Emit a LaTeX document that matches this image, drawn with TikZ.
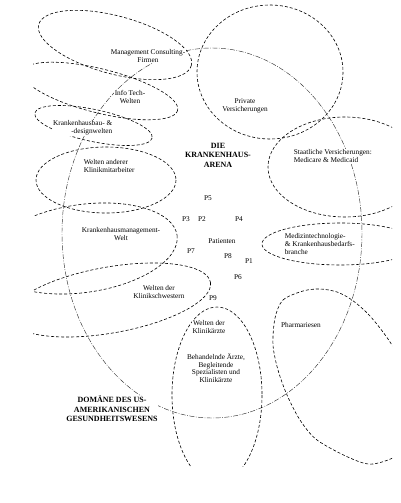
\documentclass[tikz,border=0pt]{standalone}
\usepackage{fontspec}
\setmainfont{Liberation Serif}
\begin{document}
\begin{tikzpicture}[x=1pt,y=-1pt,
  ell/.style={line width=0.6pt, dash pattern=on 3pt off 2pt},
  dom/.style={line width=0.45pt, dash pattern=on 5pt off 1.5pt on 0.8pt off 1.5pt, black!80},
  lbl/.style={font=\fontsize{7.3}{7.8}\selectfont, align=center, inner sep=0.6pt, fill=white},
  ttl/.style={font=\fontsize{8}{9.5}\selectfont\bfseries, align=center, inner sep=0.6pt, fill=white},
  pl/.style={font=\fontsize{7.3}{7.8}\selectfont, inner sep=0.5pt}]
\useasboundingbox (0,0) rectangle (400,503);
\begin{scope}
\clip (33,0) rectangle (392,466);
% domain
\draw[dom] (212,233) ellipse (150 and 185);
% management consulting
\draw[ell, rotate around={-15:(115,45)}] (115,45) ellipse (79 and 29);
% info tech
\draw[ell, rotate around={-14:(100,91)}] (100,91) ellipse (80 and 22);
% krankenhausbau
\draw[ell, rotate around={-12:(93.5,125.5)}] (93.5,125.5) ellipse (60 and 16);
% klinikmitarbeiter
\draw[ell] (106,180) ellipse (70 and 33);
% krankenhausmanagement
\draw[ell, rotate around={8:(83,248.5)}] (83,248.5) ellipse (95 and 44);
% klinikschwestern
\draw[ell, rotate around={10:(110,300)}] (110,300) ellipse (102 and 33);
% private
\draw[ell] (270,72) ellipse (73 and 67);
% staatliche
\draw[ell] (345,167) ellipse (77 and 50);
% medizintechnologie
\draw[ell] (340,244) ellipse (78 and 21);
% klinikaerzte
\draw[ell] (217,395) ellipse (45 and 88);
% pharmariesen
\draw[ell] plot[smooth cycle] coordinates {(275,318) (283,300) (303,291) (320,289) (337,292) (352,300) (370,316) (390,342) (408,375) (414,420) (402,452) (373,464) (350,458) (317,440) (300,420) (287,395) (278,370) (273,345)};
\end{scope}
% labels
\node[lbl] (mc) at (148,56) {Management Consulting-\\Firmen};
\node[lbl] (it) at (130,97) {Info Tech-\\Welten};
\node[lbl, align=right, anchor=east] (kb) at (113,128) {Krankenhausbau- \&\\-designwelten};
\node[lbl, align=left, anchor=west] (km) at (83,166) {Welten anderer\\Klinikmitarbeiter};
\node[lbl] (pv) at (245,106) {Private\\Versicherungen};
\node[ttl] (arena) at (218,155) {DIE\\KRANKENHAUS-\\ARENA};
\node[lbl, align=left, anchor=west] (sv) at (293,156) {Staatliche Versicherungen:\\Medicare \& Medicaid};
\node[lbl] (kmw) at (121,234) {Krankenhausmanagement-\\Welt};
\node[lbl, align=left, anchor=west] (mt) at (284,244) {Medizintechnologie-\\\& Krankenhausbedarfs-\\branche};
\node[lbl] (ks) at (159,292) {Welten der\\Klinikschwestern};
\node[lbl] (ka) at (209,327) {Welten der\\Klinikärzte};
\node[lbl] (ba) at (216,368) {Behandelnde Ärzte,\\Begleitende\\Spezialisten und\\Klinikärzte};
\node[lbl] (ph) at (301,325) {Pharmariesen};
\node[ttl] (dom) at (112,409) {DOMÄNE DES US-\\AMERIKANISCHEN\\GESUNDHEITSWESENS};
\node[pl] (p5) at (208,198) {P5};
\node[pl] (p3) at (186,219) {P3};
\node[pl] (p2) at (202,219) {P2};
\node[pl] (p4) at (239,219) {P4};
\node[pl] (pat) at (222,241) {Patienten};
\node[pl] (p7) at (191,251) {P7};
\node[pl] (p8) at (228,256) {P8};
\node[pl] (p1) at (249,261) {P1};
\node[pl] (p6) at (238,277) {P6};
\node[pl] (p9) at (213,298) {P9};
\end{tikzpicture}
\end{document}
